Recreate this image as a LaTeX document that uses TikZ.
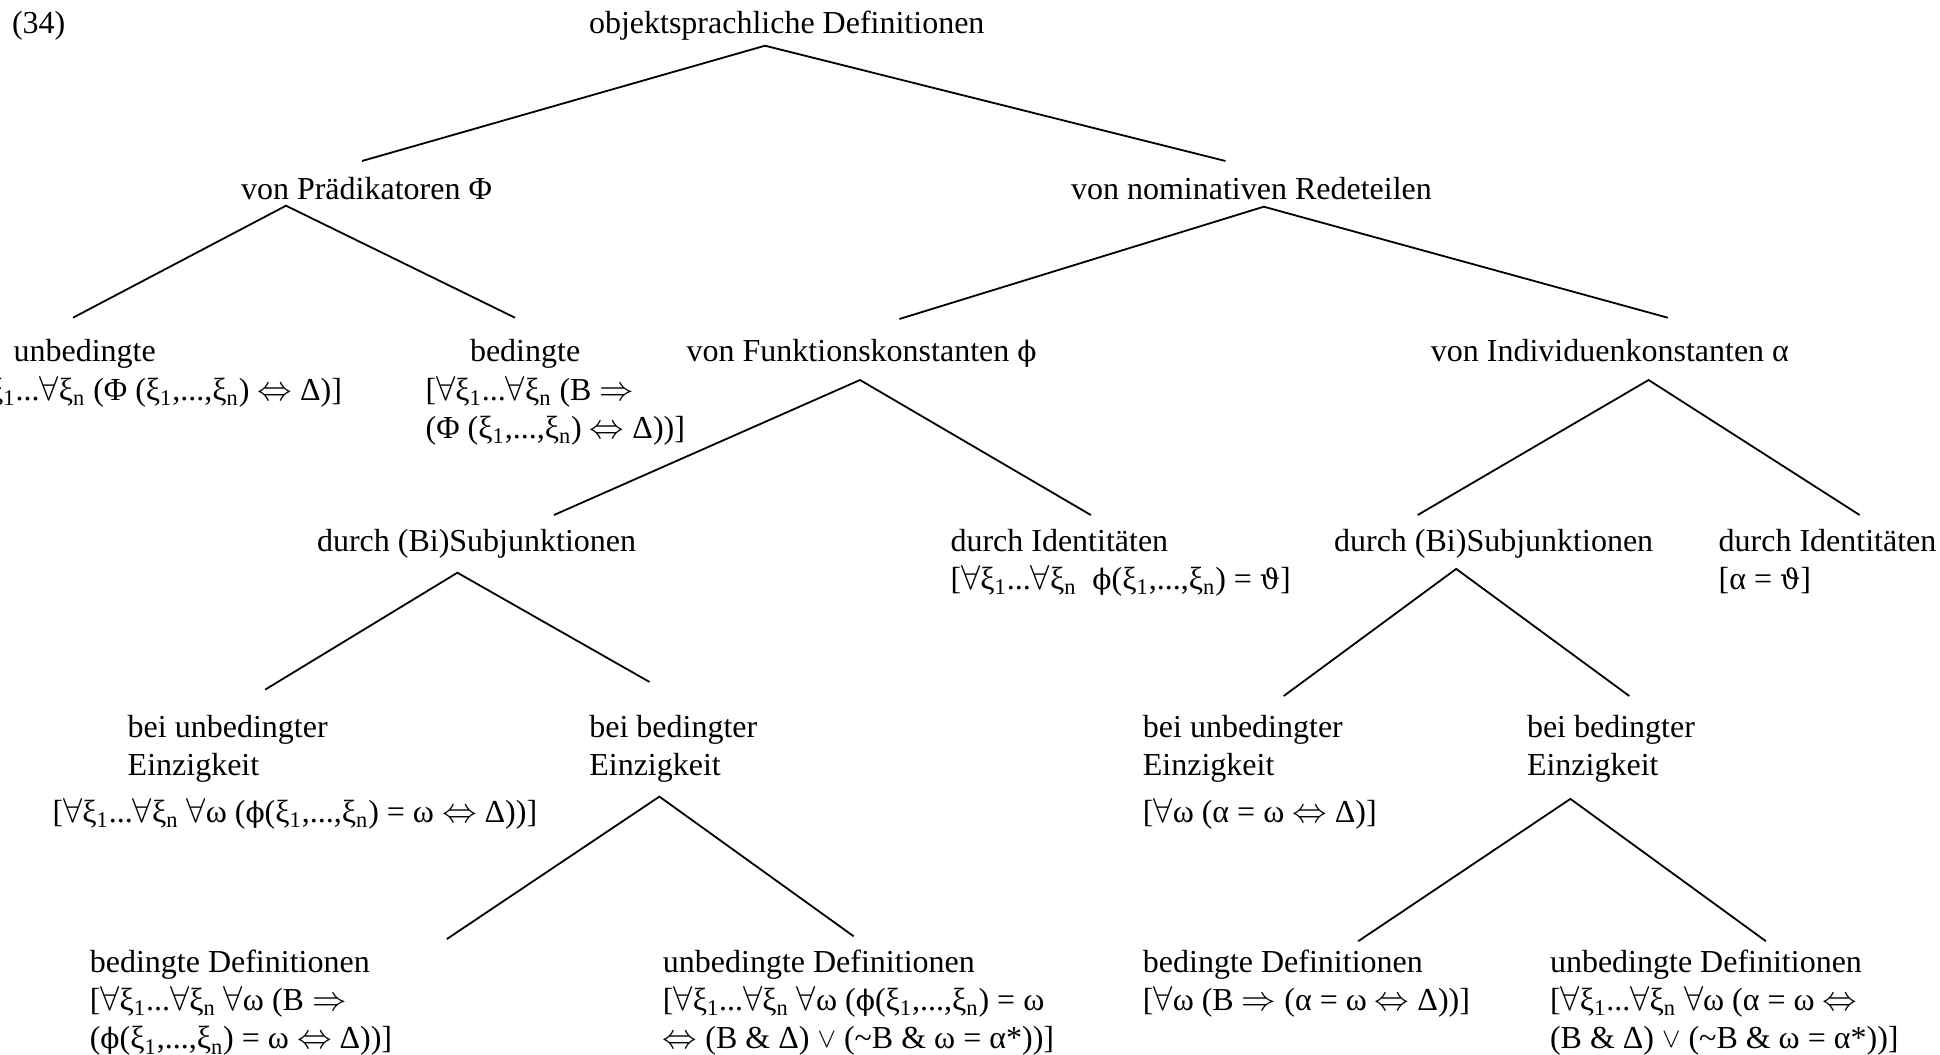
\documentclass[tikz,border=0pt]{standalone}
\usepackage{fontspec}
\setmainfont{Liberation Serif}
\newfontfamily\symf{DejaVu Serif}[Scale=0.88]
\newcommand\mFA{$\forall$}
\newcommand\mIFF{$\Leftrightarrow$}
\newcommand\mIMP{$\Rightarrow$}
\newcommand\mOR{\raisebox{0.1ex}{\scalebox{0.8}{$\vee$}}}
\newcommand\mTH{{\symf ϑ}}
\newcommand\mPH{{\symf ϕ}}
\newcommand\mXi[1]{ξ\textsubscript{#1}}
\tikzset{
  txt/.style={anchor=base west, inner sep=0pt, outer sep=0pt, font=\fontsize{16pt}{19.2pt}\selectfont},
  txtr/.style={txt, anchor=base east},
  edge/.style={line width=0.9pt}
}
\begin{document}
\begin{tikzpicture}[x=0.5pt,y=-0.5pt]
\useasboundingbox (0,0) rectangle (1940,1055);
% texts
\node[txt] (num) at (12,33) {(34)};
\node[txt] (root) at (589,33) {objektsprachliche Definitionen};
\node[txt] (praed) at (241,199) {von Prädikatoren Φ};
\node[txt] (nom) at (1071,199) {von nominativen Redeteilen};
\node[txt] (unb) at (13.6,361.7) {unbedingte};
\node[txtr] (unbf) at (342,400) {[\mFA\mXi{1}...\mFA\mXi{n} (Φ (\mXi{1},...,\mXi{n}) \mIFF\ Δ)]};
\node[txt] (bed) at (470,361.7) {bedingte};
\node[txt] (bedf1) at (425.6,400) {[\mFA\mXi{1}...\mFA\mXi{n} (B \mIMP};
\node[txt] (bedf2) at (425.6,438.5) {(Φ (\mXi{1},...,\mXi{n}) \mIFF\ Δ))]};
\node[txt] (funk) at (686.7,361.7) {von Funktionskonstanten \mPH};
\node[txt] (indiv) at (1430.9,361.7) {von Individuenkonstanten α};
\node[txt] (subjL) at (317,551) {durch (Bi)Subjunktionen};
\node[txt] (identL) at (950.5,551) {durch Identitäten};
\node[txt] (identLf) at (950.5,589) {[\mFA\mXi{1}...\mFA\mXi{n}~ \mPH(\mXi{1},...,\mXi{n}) = \mTH]};
\node[txt] (subjR) at (1334.1,551) {durch (Bi)Subjunktionen};
\node[txt] (identR) at (1718.7,551) {durch Identitäten};
\node[txt] (identRf) at (1718.7,589) {[α = \mTH]};
\node[txt] (beiunbL1) at (127.7,737) {bei unbedingter};
\node[txt] (beiunbL2) at (127.7,775.3) {Einzigkeit};
\node[txt] (beiunbLf) at (52.6,822.4) {[\mFA\mXi{1}...\mFA\mXi{n} \mFA ω (\mPH(\mXi{1},...,\mXi{n}) = ω \mIFF\ Δ))]};
\node[txt] (beibedL1) at (589.3,737) {bei bedingter};
\node[txt] (beibedL2) at (589.3,775.3) {Einzigkeit};
\node[txt] (beiunbR1) at (1142.9,737) {bei unbedingter};
\node[txt] (beiunbR2) at (1142.9,775.3) {Einzigkeit};
\node[txt] (beiunbRf) at (1142.9,822.4) {[\mFA ω (α = ω \mIFF\ Δ)]};
\node[txt] (beibedR1) at (1527,737) {bei bedingter};
\node[txt] (beibedR2) at (1527,775.3) {Einzigkeit};
\node[txt] (bdL1) at (89.8,972.3) {bedingte Definitionen};
\node[txt] (bdL2) at (89.8,1010.6) {[\mFA\mXi{1}...\mFA\mXi{n} \mFA ω (B \mIMP};
\node[txt] (bdL3) at (89.8,1048.9) {(\mPH(\mXi{1},...,\mXi{n}) = ω \mIFF\ Δ))]};
\node[txt] (udL1) at (662.9,972.3) {unbedingte Definitionen};
\node[txt] (udL2) at (662.9,1010.6) {[\mFA\mXi{1}...\mFA\mXi{n} \mFA ω (\mPH(\mXi{1},...,\mXi{n}) = ω};
\node[txt] (udL3) at (662.9,1048.9) {\mIFF\ (B \& Δ) \mOR\ (\textasciitilde B \& ω = α*))]};
\node[txt] (bdR1) at (1142.9,972.3) {bedingte Definitionen};
\node[txt] (bdR2) at (1142.9,1010.6) {[\mFA ω (B \mIMP\ (α = ω \mIFF\ Δ))]};
\node[txt] (udR1) at (1550,972.3) {unbedingte Definitionen};
\node[txt] (udR2) at (1550,1010.6) {[\mFA\mXi{1}...\mFA\mXi{n} \mFA ω (α = ω \mIFF};
\node[txt] (udR3) at (1550,1048.9) {(B \& Δ) \mOR\ (\textasciitilde B \& ω = α*))]};
% connector points
\coordinate (aRoot) at (765,45.7);
\coordinate (eRootL) at (362,161);
\coordinate (eRootR) at (1225.5,161);
\coordinate (aPraed) at (286,205.7);
\coordinate (ePraedL) at (73,317.7);
\coordinate (ePraedR) at (515,317.7);
\coordinate (aNom) at (1263.8,206.7);
\coordinate (eNomL) at (899.4,319);
\coordinate (eNomR) at (1667.8,317.7);
\coordinate (aFunk) at (860,380);
\coordinate (eFunkL) at (554,515);
\coordinate (eFunkR) at (1090.8,515);
\coordinate (aIndiv) at (1648.6,380);
\coordinate (eIndivL) at (1417.7,515);
\coordinate (eIndivR) at (1859.6,515);
\coordinate (aSubjL) at (457.4,572.7);
\coordinate (eSubjLL) at (265.2,689.6);
\coordinate (eSubjLR) at (649.6,682);
\coordinate (aSubjR) at (1456.2,568.9);
\coordinate (eSubjRL) at (1283.7,696);
\coordinate (eSubjRR) at (1629.3,696);
\coordinate (aBedL) at (659.4,796.6);
\coordinate (eBedLL) at (446.9,939);
\coordinate (eBedLR) at (853.7,936.3);
\coordinate (aBedR) at (1570.4,798.9);
\coordinate (eBedRL) at (1358.2,941.2);
\coordinate (eBedRR) at (1765.9,941.2);
% connectors
\draw[edge] (eRootL) -- (aRoot) -- (eRootR);
\draw[edge] (ePraedL) -- (aPraed) -- (ePraedR);
\draw[edge] (eNomL) -- (aNom) -- (eNomR);
\draw[edge] (eFunkL) -- (aFunk) -- (eFunkR);
\draw[edge] (eIndivL) -- (aIndiv) -- (eIndivR);
\draw[edge] (eSubjLL) -- (aSubjL) -- (eSubjLR);
\draw[edge] (eSubjRL) -- (aSubjR) -- (eSubjRR);
\draw[edge] (eBedLL) -- (aBedL) -- (eBedLR);
\draw[edge] (eBedRL) -- (aBedR) -- (eBedRR);
\end{tikzpicture}
\end{document}
